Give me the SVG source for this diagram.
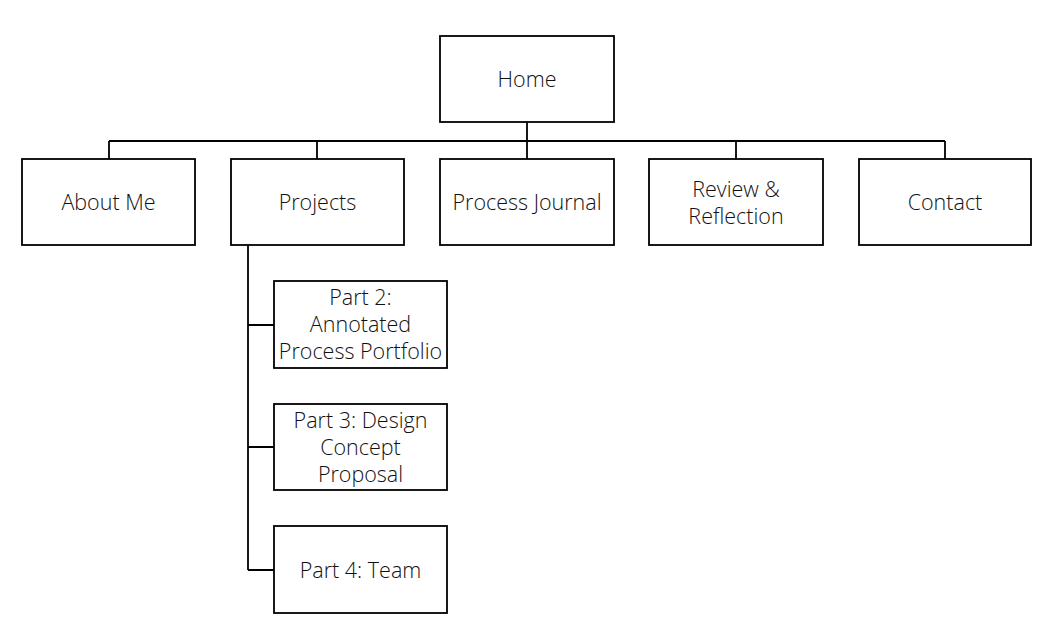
<svg xmlns="http://www.w3.org/2000/svg" width="1046" height="630" viewBox="0 0 1046 630">
<style>
.box{fill:#fff;stroke:#000;stroke-width:1.8}
.lbl{font-family:"Open Sans","Liberation Sans",sans-serif;font-size:21.5px;font-weight:300;fill:#111;text-anchor:middle;dominant-baseline:central}
.con{fill:none;stroke:#000;stroke-width:1.8}
</style>
<rect width="1046" height="630" fill="#fff"/>
<g id="connectors">
<path class="con" d="M527 122V141M109 141H945M109 141V159M317 141V159M527 141V159M736 141V159M945 141V159"/>
<path class="con" d="M248 245V570M248 325H274M248 447H274M248 570H274"/>
</g>
<g id="home"><rect class="box" x="440" y="36" width="174" height="86"/><text class="lbl" x="527" y="78">Home</text></g>
<g id="about"><rect class="box" x="22" y="159" width="173" height="86"/><text class="lbl" x="108.5" y="201">About Me</text></g>
<g id="projects"><rect class="box" x="231" y="159" width="173" height="86"/><text class="lbl" x="317.5" y="201">Projects</text></g>
<g id="journal"><rect class="box" x="440" y="159" width="174" height="86"/><text class="lbl" x="527" y="201">Process Journal</text></g>
<g id="review"><rect class="box" x="649" y="159" width="174" height="86"/><text class="lbl" x="736" y="188">Review &amp;</text><text class="lbl" x="736" y="215">Reflection</text></g>
<g id="contact"><rect class="box" x="859" y="159" width="172" height="86"/><text class="lbl" x="945" y="201">Contact</text></g>
<g id="part2"><rect class="box" x="274" y="281" width="173" height="87"/><text class="lbl" x="360.5" y="296">Part 2:</text><text class="lbl" x="360.5" y="323">Annotated</text><text class="lbl" x="360.5" y="350">Process Portfolio</text></g>
<g id="part3"><rect class="box" x="274" y="404" width="173" height="86"/><text class="lbl" x="360.5" y="419">Part 3: Design</text><text class="lbl" x="360.5" y="446">Concept</text><text class="lbl" x="360.5" y="473">Proposal</text></g>
<g id="part4"><rect class="box" x="274" y="526" width="173" height="87"/><text class="lbl" x="360.5" y="569">Part 4: Team</text></g>
</svg>
